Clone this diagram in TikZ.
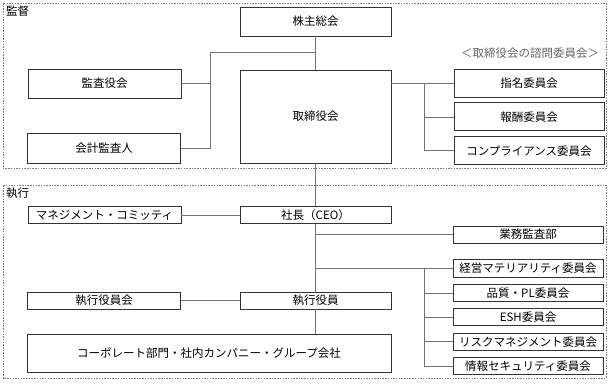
\documentclass[tikz,border=0pt]{standalone}
\usepackage{fontspec}
\setmainfont{Noto Sans CJK JP}
\usetikzlibrary{positioning}
\tikzset{
  region/.style={draw=black!50, dashed, dash pattern=on 1.5pt off 1.2pt, line width=0.8pt},
  tag/.style={inner sep=1pt, font=\fontsize{11.5}{12}\selectfont},
  box/.style={draw=black!80, line width=0.9pt, inner sep=0pt, align=center, minimum width=151pt, font=\fontsize{11.5}{12}\selectfont},
  bigbox/.style={box, minimum height=29pt},
  flatbox/.style={box, minimum height=17pt},
  link/.style={draw=black!55, line width=0.8pt},
  note/.style={text=black!60, inner sep=0pt, font=\fontsize{11.5}{12}\selectfont}
}
\begin{document}
\begin{tikzpicture}[x=1pt, y=-1pt, node distance=5pt]
\useasboundingbox (0,0) rectangle (610,383);
% supervision
\draw[region] (3,3) rectangle (606,168);
\node[tag, anchor=north west] (kantoku) at (5,5) {監督};
\node[bigbox] (soukai) at (315.5,21.5) {株主総会};
\node[bigbox, minimum height=93pt] (torishimari) at (315.5,116.5) {取締役会};
\node[bigbox, minimum width=153pt] (kansayaku) at (104.5,83.5) {監査役会};
\node[bigbox, minimum width=153pt, minimum height=30pt] (kaikei) at (104,148) {会計監査人};
\node[note] (shimon) at (530,53) {＜取締役会の諮問委員会＞};
\node[bigbox, minimum width=150pt, minimum height=28pt] (shimei) at (529,83) {指名委員会};
\node[bigbox, minimum width=150pt, minimum height=28pt, below=of shimei] (hoshu) {報酬委員会};
\node[bigbox, minimum width=150pt, minimum height=28pt, below=of hoshu] (compliance) {コンプライアンス委員会};
\coordinate (kj) at (210,52);
\coordinate (cj) at (424,83);
\draw[link] (soukai) -- (torishimari);
\draw[link] (soukai |- kj) -- (kj) |- (kaikei);
\draw[link] (kansayaku) -- (kansayaku -| kj);
\draw[link] (torishimari.east |- shimei) -- (shimei);
\draw[link] (cj) |- (compliance);
\draw[link] (hoshu -| cj) -- (hoshu);
% execution
\draw[region] (3,185) rectangle (606,378);
\node[tag, anchor=north west] (shikko) at (5,187) {執行};
\node[flatbox] (ceo) at (315.5,215) {社長（CEO）};
\node[flatbox, minimum width=153pt] (mgmt) at (104.5,215) {マネジメント・コミッティ};
\node[flatbox] (yakuin) at (315.5,300.5) {執行役員};
\node[flatbox, minimum width=153pt] (yakuinkai) at (104,300.5) {執行役員会};
\node[box, minimum width=364pt, minimum height=38pt] (corporate) at (209,353) {コーポレート部門・社内カンパニー・グループ会社};
\node[flatbox, minimum width=150pt] (gyomu) at (528,234.5) {業務監査部};
\node[flatbox, minimum width=150pt, minimum height=18pt] (materiality) at (528,268) {経営マテリアリティ委員会};
\node[flatbox, minimum width=150pt, below=6.5pt of materiality] (hinshitsu) {品質・PL委員会};
\node[flatbox, minimum width=150pt, below=6.5pt of hinshitsu] (esh) {ESH委員会};
\node[flatbox, minimum width=150pt, below=6.5pt of esh] (risk) {リスクマネジメント委員会};
\node[flatbox, minimum width=150pt, below=6.5pt of risk] (joho) {情報セキュリティ委員会};
\coordinate (ej) at (424,268);
\draw[link] (torishimari) -- (ceo);
\draw[link] (ceo) -- (yakuin);
\draw[link] (yakuin) -- (yakuin |- corporate.north);
\draw[link] (mgmt) -- (ceo);
\draw[link] (yakuinkai) -- (yakuin);
\draw[link] (ceo |- gyomu) -- (gyomu);
\draw[link] (ceo |- materiality) -- (materiality);
\draw[link] (ej) |- (joho);
\foreach \c in {hinshitsu,esh,risk}
  \draw[link] (\c -| ej) -- (\c);
\end{tikzpicture}
\end{document}
